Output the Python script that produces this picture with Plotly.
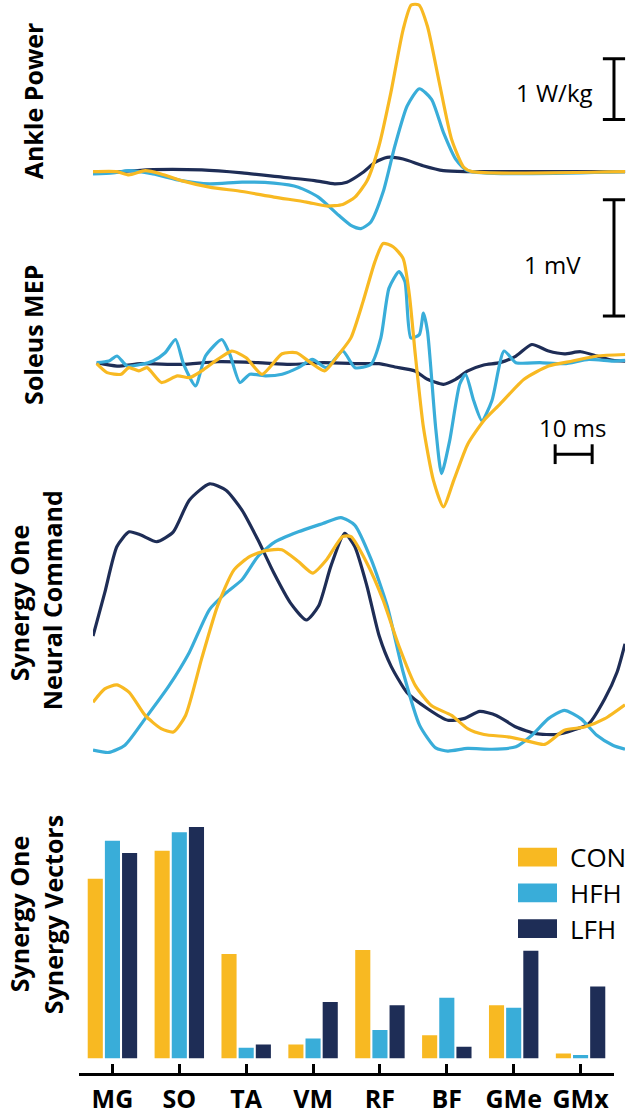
import plotly.graph_objects as go

# ---------------- DATA ----------------
# Ankle power (W/kg) vs time (ms)
AP_CON_T = [0, 6.5, 9.7, 14.1, 18.4, 23.9, 31.5, 40.3, 48.9, 57.7, 63.1, 67.5, 70.8, 74.1, 77.3, 80.5, 83.8, 86.0, 88.1, 90.4, 93.6, 96.9, 100.2, 102.4, 143.8]
AP_CON_V = [0, 0, -0.054, 0.016, -0.038, -0.148, -0.256, -0.328, -0.420, -0.502, -0.567, -0.541, -0.420, -0.148, 0.426, 1.302, 2.339, 2.749, 2.749, 2.393, 1.466, 0.536, 0.072, 0, 0]
AP_HFH_T = [0, 5.4, 9.7, 16.2, 23.9, 31.5, 40.3, 48.9, 55.5, 60.9, 66.4, 69.7, 72.4, 75.1, 78.4, 81.6, 84.9, 88.2, 91.5, 94.7, 98.0, 101.3, 143.8]
AP_HFH_V = [-0.038, -0.021, 0.016, -0.038, -0.148, -0.202, -0.174, -0.190, -0.256, -0.420, -0.721, -0.885, -0.939, -0.830, -0.338, 0.426, 1.082, 1.367, 1.192, 0.646, 0.208, 0.016, 0]
AP_LFH_T = [0, 7.6, 16.2, 29.4, 40.3, 51.1, 59.9, 65.3, 68.6, 73.0, 76.2, 79.5, 83.8, 89.2, 94.7, 101.3, 143.8]
AP_LFH_V = [-0.01, 0.0, 0.033, 0.028, -0.021, -0.092, -0.148, -0.202, -0.174, -0.01, 0.154, 0.236, 0.208, 0.098, 0.016, 0.0, 0.0]

# Soleus MEP (mV) vs time (ms)
MEP_CON_T = [1.0, 3.8, 7.6, 9.7, 12.4, 14.6, 18.5, 22.8, 26.1, 29.4, 33.7, 37.5, 41.4, 45.7, 51.1, 55.0, 58.8, 62.6, 66.4, 69.7, 73.0, 76.2, 78.4, 81.1, 83.8, 85.5, 87.1, 89.3, 92.0, 94.7, 97.5, 101.3, 105.6, 110.0, 116.5, 123.1, 129.6, 136.2, 143.8]
MEP_CON_V = [0, -0.077, -0.091, -0.034, -0.062, -0.034, -0.162, -0.105, -0.120, -0.062, 0.037, 0.109, 0.051, -0.091, 0.085, 0.094, 0.009, -0.062, 0.079, 0.222, 0.536, 0.878, 1.034, 1.006, 0.906, 0.592, 0.079, -0.547, -1.003, -1.231, -1.003, -0.690, -0.490, -0.348, -0.134, -0.020, 0.023, 0.066, 0.079]
MEP_HFH_T = [1.0, 4.3, 6.5, 9.2, 13.0, 16.2, 19.5, 22.3, 24.5, 27.7, 30.4, 34.8, 37.0, 39.7, 42.4, 46.8, 51.1, 55.5, 59.3, 63.1, 67.5, 70.8, 75.1, 77.8, 80.0, 82.7, 84.3, 85.9, 88.2, 89.3, 90.4, 92.6, 94.2, 96.4, 99.1, 100.7, 102.9, 105.1, 107.8, 111.1, 114.3, 120.8, 127.4, 134.0, 140.5, 143.8]
MEP_HFH_V = [0.009, 0.023, 0.066, -0.020, -0.006, 0.023, 0.094, 0.208, -0.006, -0.191, 0.066, 0.208, 0.079, -0.162, -0.091, -0.105, -0.091, -0.034, 0.037, -0.034, 0.109, -0.034, -0.006, 0.222, 0.650, 0.792, 0.707, 0.222, 0.250, 0.436, 0.279, -0.547, -0.946, -0.661, -0.177, -0.091, -0.319, -0.490, -0.319, 0.109, 0.009, 0.009, 0, 0.037, 0.023, 0.028]
MEP_LFH_T = [1.0, 6.5, 13.0, 23.9, 33.7, 44.6, 53.2, 62.1, 73.0, 77.3, 81.6, 87.0, 90.4, 94.7, 98.0, 101.3, 105.6, 110.0, 114.3, 118.6, 123.1, 127.4, 131.8, 136.2, 140.5, 143.8]
MEP_LFH_V = [0.009, -0.020, 0, -0.006, 0.017, 0.009, -0.006, 0.009, 0, 0, -0.028, -0.062, -0.134, -0.177, -0.134, -0.062, -0.011, 0.009, 0.066, 0.165, 0.109, 0.085, 0.103, 0.066, 0.028, 0.023]

# Synergy one neural command (a.u.) vs % cycle
NC_CON_P = [0, 2.2, 4.5, 6.8, 9.8, 12.8, 15.1, 17.4, 20.4, 23.4, 26.5, 29.5, 32.5, 35.5, 38.6, 41.3, 43.9, 46.9, 48.5, 51.5, 54.5, 57.5, 60.6, 63.6, 67.4, 70.4, 73.5, 78.0, 81.0, 84.9, 88.6, 92.4, 96.2, 100]
NC_CON_V = [0.197, 0.247, 0.262, 0.234, 0.148, 0.099, 0.086, 0.148, 0.358, 0.556, 0.691, 0.741, 0.763, 0.766, 0.722, 0.679, 0.729, 0.815, 0.815, 0.716, 0.580, 0.407, 0.259, 0.185, 0.148, 0.099, 0.077, 0.068, 0.056, 0.040, 0.093, 0.105, 0.136, 0.188]
NC_HFH_P = [0, 3.0, 6.0, 9.8, 14.3, 18.1, 21.9, 25.0, 28.0, 31.0, 34.0, 38.6, 43.2, 46.6, 49.2, 52.3, 55.3, 58.3, 61.4, 64.4, 66.7, 70.4, 75.0, 79.5, 82.5, 85.6, 88.6, 91.7, 94.7, 97.7, 100]
NC_HFH_V = [0.019, 0.010, 0.037, 0.136, 0.259, 0.383, 0.543, 0.605, 0.654, 0.741, 0.793, 0.833, 0.864, 0.886, 0.858, 0.729, 0.556, 0.309, 0.111, 0.027, 0.015, 0.025, 0.022, 0.031, 0.074, 0.136, 0.167, 0.136, 0.074, 0.037, 0.022]
NC_LFH_P = [0, 2.2, 4.5, 6.8, 9.0, 12.0, 15.1, 18.1, 21.9, 25.0, 28.0, 31.0, 34.0, 37.1, 40.1, 42.4, 44.7, 47.3, 49.2, 51.5, 53.8, 56.0, 59.0, 62.9, 66.7, 69.7, 72.7, 75.8, 79.5, 83.3, 87.1, 90.2, 93.2, 96.2, 98.5, 100]
NC_LFH_V = [0.444, 0.605, 0.778, 0.833, 0.821, 0.796, 0.833, 0.951, 1.012, 0.988, 0.914, 0.803, 0.679, 0.568, 0.504, 0.556, 0.704, 0.827, 0.778, 0.630, 0.444, 0.333, 0.234, 0.173, 0.130, 0.136, 0.163, 0.148, 0.105, 0.080, 0.077, 0.093, 0.117, 0.210, 0.309, 0.415]

# Synergy one vectors (muscle weights)
MUSCLES = ["MG", "SO", "TA", "VM", "RF", "BF", "GMe", "GMx"]
W_CON = [0.777, 0.898, 0.451, 0.060, 0.468, 0.100, 0.229, 0.021]
W_HFH = [0.941, 0.978, 0.046, 0.086, 0.122, 0.262, 0.219, 0.014]
W_LFH = [0.888, 1.000, 0.060, 0.244, 0.229, 0.050, 0.465, 0.311]

GROUPS = ["CON", "HFH", "LFH"]
COLORS = {"CON": "#F8B922", "HFH": "#39ADD9", "LFH": "#1E2D56"}

# Scale bars (data units)
SB_POWER = 1.0    # W/kg
SB_MEP = 1.0      # mV
SB_TIME = 10.0    # ms

# ---------------- LAYOUT HELPERS ----------------
W, H = 629, 1115
FONT = "Open Sans"

def px(xp):
    return xp / W

def py(yp):
    return 1 - yp / H

fig = go.Figure()

LW = 3.2
def add_line(t, v, name, xa, ya):
    fig.add_trace(go.Scatter(x=t, y=v, mode="lines", name=name,
                             line=dict(color=COLORS[name], width=LW, shape="spline", smoothing=0.6),
                             xaxis=xa, yaxis=ya, showlegend=False, hoverinfo="skip"))

# draw LFH first, then HFH, then CON on top (as in reference)
add_line(AP_LFH_T, AP_LFH_V, "LFH", "x", "y")
add_line(AP_HFH_T, AP_HFH_V, "HFH", "x", "y")
add_line(AP_CON_T, AP_CON_V, "CON", "x", "y")

add_line(MEP_LFH_T, MEP_LFH_V, "LFH", "x2", "y2")
add_line(MEP_HFH_T, MEP_HFH_V, "HFH", "x2", "y2")
add_line(MEP_CON_T, MEP_CON_V, "CON", "x2", "y2")

add_line(NC_LFH_P, NC_LFH_V, "LFH", "x3", "y3")
add_line(NC_HFH_P, NC_HFH_V, "HFH", "x3", "y3")
add_line(NC_CON_P, NC_CON_V, "CON", "x3", "y3")

for g, w in zip(GROUPS, [W_CON, W_HFH, W_LFH]):
    fig.add_trace(go.Bar(x=MUSCLES, y=w, name=g, marker=dict(color=COLORS[g], line=dict(width=0)),
                         xaxis="x4", yaxis="y4", showlegend=False, hoverinfo="skip"))

hidden = dict(visible=False, showgrid=False, zeroline=False)

fig.update_layout(
    width=W, height=H,
    margin=dict(l=0, r=0, t=0, b=0),
    paper_bgcolor="white", plot_bgcolor="rgba(0,0,0,0)",
    showlegend=False,
    barmode="group", bargap=0.23, bargroupgap=0.12,
    font=dict(family=FONT, color="black"),
    xaxis=dict(domain=[px(93), 1], range=[0, 144.86], **hidden),
    yaxis=dict(domain=[py(240), 1], range=[-1.103, 2.831], **hidden),
    xaxis2=dict(domain=[px(93), 1], range=[0, 144.86], anchor="y2", **hidden),
    yaxis2=dict(domain=[py(520), py(190)], range=[-1.316, 1.504], anchor="x2", **hidden),
    xaxis3=dict(domain=[px(93), px(625)], range=[0, 100], anchor="y3", **hidden),
    yaxis3=dict(domain=[py(775), py(475)], range=[-0.056, 1.056], anchor="x3", **hidden),
    xaxis4=dict(domain=[px(79), px(614)], range=[-0.5, 7.5], anchor="y4", type="category",
                showline=True, linecolor="black", linewidth=3, mirror=False,
                ticks="inside", ticklen=9, tickwidth=3, tickcolor="black",
                showgrid=False, zeroline=False,
                tickfont=dict(family=FONT, size=25, color="black", weight="bold"),
                ticklabelstandoff=2),
    yaxis4=dict(domain=[py(1080), py(820)], range=[-0.0645, 1.053], anchor="x4", **hidden),
)

# ---------------- Scale bars ----------------
shapes = []
def seg(xref, yref, x0, y0, x1, y1):
    shapes.append(dict(type="line", xref=xref, yref=yref, x0=x0, y0=y0, x1=x1, y1=y1,
                       line=dict(color="black", width=3)))

bx, cap = 140.8, 3.0
p0 = 0.86
seg("x", "y", bx, p0, bx, p0 + SB_POWER)
seg("x", "y", bx - cap, p0, bx + cap, p0)
seg("x", "y", bx - cap, p0 + SB_POWER, bx + cap, p0 + SB_POWER)

m0 = 0.41
seg("x2", "y2", bx, m0, bx, m0 + SB_MEP)
seg("x2", "y2", bx - cap, m0, bx + cap, m0)
seg("x2", "y2", bx - cap, m0 + SB_MEP, bx + cap, m0 + SB_MEP)

t0, ty, tcap = 124.9, -0.778, 0.085
seg("x2", "y2", t0, ty, t0 + SB_TIME, ty)
seg("x2", "y2", t0, ty - tcap, t0, ty + tcap)
seg("x2", "y2", t0 + SB_TIME, ty - tcap, t0 + SB_TIME, ty + tcap)

# ---------------- Legend (manual) ----------------
leg_y = [853, 889, 925]
for g, yy in zip(GROUPS, leg_y):
    shapes.append(dict(type="rect", xref="paper", yref="paper",
                       x0=px(518), x1=px(557), y0=py(yy + 19), y1=py(yy),
                       fillcolor=COLORS[g], line=dict(width=0)))

fig.update_layout(shapes=shapes)

ann = []
def txt(text, x, y, xref, yref, size, bold=False, angle=0, xanchor="center"):
    ann.append(dict(text=text, x=x, y=y, xref=xref, yref=yref, showarrow=False,
                    textangle=angle, xanchor=xanchor, yanchor="middle",
                    font=dict(family=FONT, size=size, color="black", weight="bold" if bold else "normal")))

txt("1 W/kg", 124.6, 1.307, "x", "y", 24)
txt("1 mV", 124.3, 0.855, "x2", "y2", 24)
txt("10 ms", 129.7, -0.547, "x2", "y2", 24)

for g, yy in zip(GROUPS, leg_y):
    txt(g, px(568), py(yy + 9.5), "paper", "paper", 26, xanchor="left")

TS = 25
txt("Ankle Power", px(33), py(102), "paper", "paper", TS, True, -90)
txt("Soleus MEP", px(33), py(337), "paper", "paper", TS, True, -90)
txt("Synergy One", px(19), py(607), "paper", "paper", TS, True, -90)
txt("Neural Command", px(52), py(604), "paper", "paper", TS, True, -90)
txt("Synergy One", px(19), py(920), "paper", "paper", TS, True, -90)
txt("Synergy Vectors", px(53), py(921), "paper", "paper", TS, True, -90)

fig.update_layout(annotations=ann)

fig.write_html("out.html", config={"displayModeBar": False},
               post_script="document.body.style.margin='0';document.body.style.overflow='hidden';")
